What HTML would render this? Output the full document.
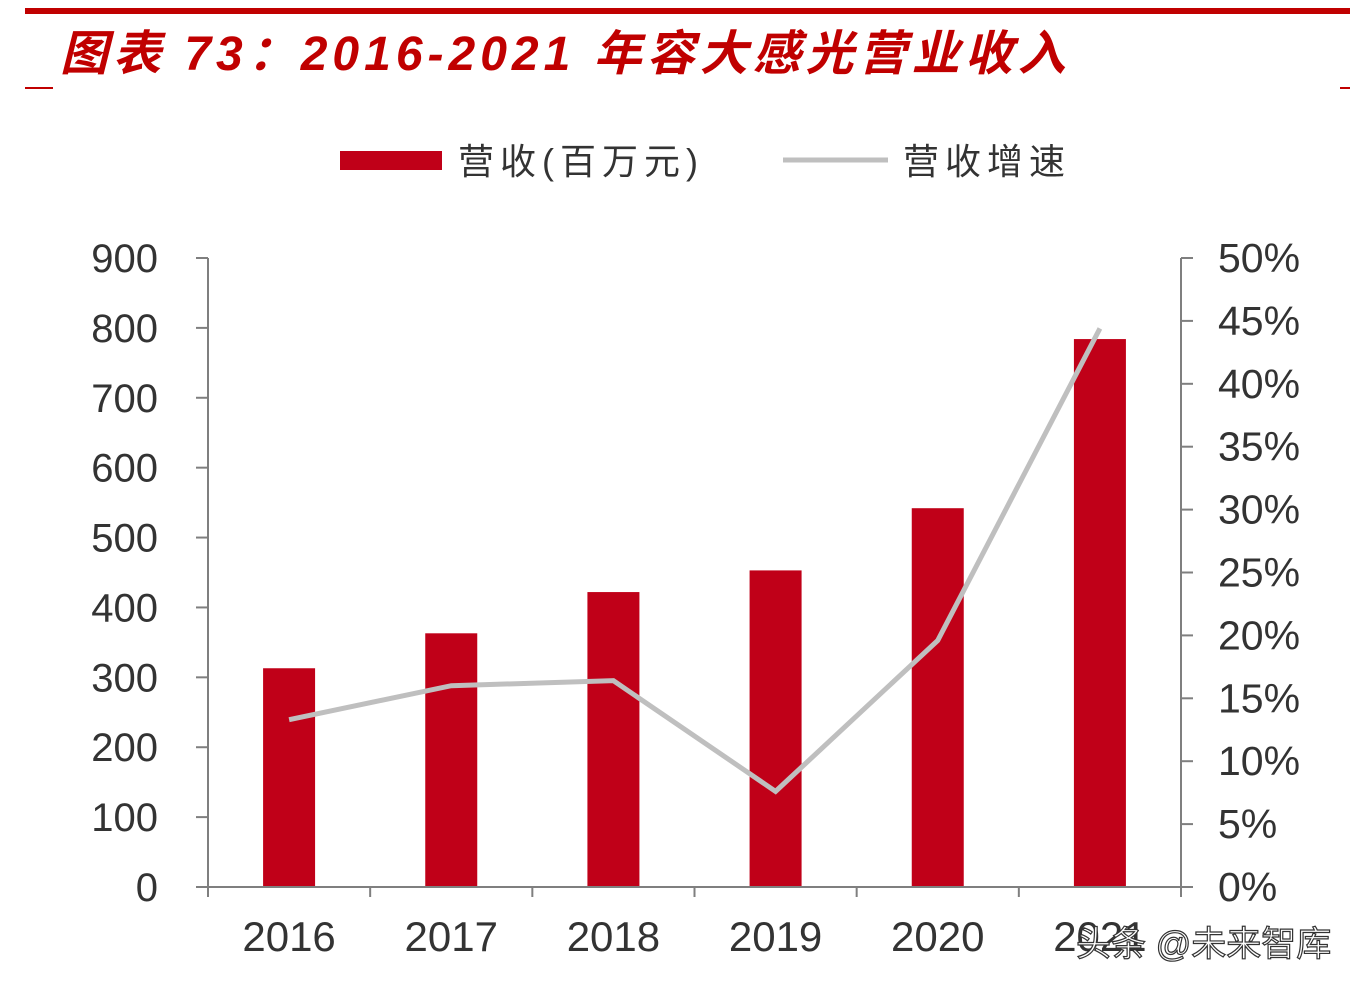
<!DOCTYPE html>
<html><head><meta charset="utf-8"><style>
html,body{margin:0;padding:0;background:#fff;width:1350px;height:990px;overflow:hidden}
svg text{font-family:"Liberation Sans","Noto Sans CJK SC",sans-serif}
</style></head><body>
<svg id="chart" width="1350" height="990" xmlns="http://www.w3.org/2000/svg">
<rect x="25" y="8" width="1325" height="6" fill="#c00000"/>
<rect x="25" y="87" width="28" height="2" fill="#c00000"/>
<rect x="1340" y="87" width="10" height="2" fill="#c00000"/>
<text x="60" y="70" font-size="48" font-weight="bold" font-style="italic" letter-spacing="5" fill="#c00000">图表 73：2016-2021 年容大感光营业收入</text>
<rect x="340" y="151" width="102" height="19" fill="#c00018"/>
<text x="458" y="174" font-size="36" letter-spacing="6" fill="#333">营收(百万元)</text>
<line x1="783" y1="160" x2="888" y2="160" stroke="#bfbfbf" stroke-width="5"/>
<text x="903" y="174" font-size="36" letter-spacing="6" fill="#333">营收增速</text>
<g id="g"></g>
<text x="1076" y="956" font-size="35" fill="#fff" stroke="#333" stroke-width="1.2">头条 @未来智库</text>
</svg>
<script>
const years=["2016","2017","2018","2019","2020","2021"];
const revenue=[313,363,422,453,542,784];
const growth=[13.3,16.0,16.4,7.6,19.6,44.4];
const leftTicks=[0,100,200,300,400,500,600,700,800,900];
const rightTicks=[0,5,10,15,20,25,30,35,40,45,50];
const L=208,R=1181,T=258,B=887;
const yL=v=>B-(v/900)*(B-T);
const yR=v=>B-(v/50)*(B-T);
const bw=(R-L)/years.length;
const xC=i=>L+bw*(i+0.5);
const g=document.getElementById('g');
const NS="http://www.w3.org/2000/svg";
function mk(t,a){const e=document.createElementNS(NS,t);for(const k in a)e.setAttribute(k,a[k]);g.appendChild(e);return e;}
revenue.forEach((v,i)=>{const r=mk('rect',{x:xC(i)-26,y:yL(v),width:52,height:B-yL(v),fill:'#c00018'});

});
let a=mk('line',{x1:L,y1:T,x2:L,y2:B,stroke:'#7f7f7f','stroke-width':2});


a=mk('line',{x1:R,y1:T,x2:R,y2:B,stroke:'#7f7f7f','stroke-width':2});


a=mk('line',{x1:L,y1:B,x2:R,y2:B,stroke:'#7f7f7f','stroke-width':2});


leftTicks.forEach(v=>{mk('line',{x1:L-12,y1:yL(v),x2:L,y2:yL(v),stroke:'#7f7f7f','stroke-width':2});
const t=mk('text',{x:158,y:yL(v)+14,'font-size':40,'text-anchor':'end',fill:'#333'});t.textContent=v;

});
rightTicks.forEach(v=>{mk('line',{x1:R,y1:yR(v),x2:R+12,y2:yR(v),stroke:'#7f7f7f','stroke-width':2});
const t=mk('text',{x:1218,y:yR(v)+14,'font-size':41,fill:'#333'});t.textContent=v+'%';

});
for(let i=0;i<=years.length;i++)mk('line',{x1:L+bw*i,y1:B,x2:L+bw*i,y2:B+10,stroke:'#7f7f7f','stroke-width':2});
years.forEach((y,i)=>{const t=mk('text',{x:xC(i),y:951,'font-size':42,'text-anchor':'middle',fill:'#333'});t.textContent=y;

});
const p=mk('polyline',{points:growth.map((v,i)=>xC(i)+','+yR(v)).join(' '),fill:'none',stroke:'#bfbfbf','stroke-width':5});


</script>
</body></html>
